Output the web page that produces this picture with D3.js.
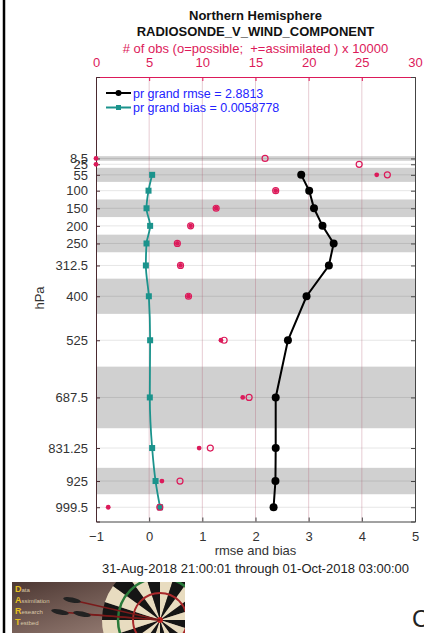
<!DOCTYPE html>
<html>
<head>
<meta charset="utf-8">
<script src="https://cdn.jsdelivr.net/npm/d3@7"></script>
<style>
  body { margin: 0; background: #fff; }
  svg { display: block; font-family: "Liberation Sans", Arial, sans-serif; }
</style>
</head>
<body>
<svg id="chart" width="424" height="633"></svg>
<script>
// pressure levels (hPa) and layer edges
const levels = [8.5, 25, 55, 100, 150, 200, 250, 312.5, 400, 525, 687.5, 831.25, 925, 999.5];
const edges = [2, 15, 35, 75, 125, 175, 225, 275, 350, 450, 600, 775, 887.5, 962.5, 1036.5];

// rmse and bias per level (null = no assimilated obs)
const rmse = [null, null, 2.86, 3.01, 3.10, 3.26, 3.47, 3.38, 2.96, 2.61, 2.38, 2.38, 2.375, 2.34];
const bias = [null, null, 0.056, -0.012, -0.05, 0.018, -0.05, -0.062, -0.006, 0.018, 0.012, 0.056, 0.12, 0.205];

// number of obs, x 10000
const nPossible = [15.9, 24.75, 27.4, 16.9, 11.3, 8.9, 7.65, 7.95, 8.7, 12.05, 14.4, 10.75, 7.9, 6.0];
const nAssim = [0, 0, 26.4, 16.9, 11.3, 8.9, 7.65, 7.95, 8.7, 11.75, 13.8, 9.7, 6.2, 1.15];

const grandRmse = "2.8813";
const grandBias = "0.0058778";
const xTicks = [-1, 0, 1, 2, 3, 4, 5];
const obsTicks = [0, 5, 10, 15, 20, 25, 30];

const crimson = "#dc1a5a", teal = "#1b938c", axisGray = "#444";

const svg = d3.select("#chart");
const L = 96, R = 415, T = 77, B = 521.5;

const x = d3.scaleLinear().domain([-1, 5]).range([L, R]);
const xo = d3.scaleLinear().domain([0, 30]).range([L, R]);
const y = d3.scaleLinear().domain([-223, 1040]).range([T, B]);

// page frame on the left
svg.append("line").attr("x1", 4).attr("x2", 4).attr("y1", 0).attr("y2", 633)
  .attr("stroke", "#000").attr("stroke-width", 2.5);

// shaded layers (every other one)
svg.append("g").selectAll("rect")
  .data(levels.map((d, i) => i).filter(i => i % 2 === 0))
  .join("rect")
  .attr("x", L).attr("width", R - L)
  .attr("y", i => y(edges[i]))
  .attr("height", i => y(edges[i + 1]) - y(edges[i]))
  .attr("fill", "#d0d0d0");

// horizontal level lines
svg.append("g").selectAll("line").data(levels).join("line")
  .attr("x1", L).attr("x2", R)
  .attr("y1", d => y(d)).attr("y2", d => y(d))
  .attr("stroke", "#000").attr("stroke-opacity", 0.1).attr("stroke-width", 1);

// vertical grid lines
svg.append("g").selectAll("line").data(xTicks.slice(1, -1)).join("line")
  .attr("x1", d => x(d)).attr("x2", d => x(d))
  .attr("y1", T).attr("y2", B)
  .attr("stroke", "#b0566e").attr("stroke-opacity", 0.3).attr("stroke-width", 1);

// axes
const gBottom = svg.append("g").attr("transform", `translate(0,${B})`)
  .call(d3.axisBottom(x).tickValues(xTicks).tickSize(-4).tickPadding(10).tickFormat(d3.format("d")));
const gTop = svg.append("g").attr("transform", `translate(0,${T})`)
  .call(d3.axisTop(xo).tickValues(obsTicks).tickSize(-4).tickPadding(10));
const gLeft = svg.append("g").attr("transform", `translate(${L},0)`)
  .call(d3.axisLeft(y).tickValues(levels).tickSize(-4).tickPadding(8).tickFormat(d => d));
const gRight = svg.append("g").attr("transform", `translate(${R},0)`)
  .call(d3.axisRight(y).tickValues(levels).tickSize(-4).tickFormat(""));

[gBottom, gTop, gLeft, gRight].forEach(g => {
  g.selectAll("text").attr("font-size", 13).attr("font-family", "Liberation Sans, Arial, sans-serif");
});
gBottom.select(".domain").attr("stroke", axisGray);
gBottom.selectAll(".tick line").attr("stroke", axisGray);
gBottom.selectAll("text").attr("fill", "#333");
gRight.select(".domain").attr("stroke", axisGray);
gRight.selectAll(".tick line").attr("stroke", axisGray);
gLeft.select(".domain").attr("stroke", "#4a2a30");
gLeft.selectAll(".tick line").attr("stroke", "#4a2a30");
gLeft.selectAll("text").attr("fill", "#333");
gTop.select(".domain").attr("stroke", crimson);
gTop.selectAll(".tick line").attr("stroke", crimson);
gTop.selectAll("text").attr("fill", crimson);

// obs counts
const obs = svg.append("g");
obs.selectAll("circle.poss").data(levels).join("circle")
  .attr("class", "poss")
  .attr("cx", (d, i) => xo(nPossible[i])).attr("cy", d => y(d))
  .attr("r", 3).attr("fill", "none").attr("stroke", crimson).attr("stroke-width", 1.2);
obs.selectAll("circle.assim").data(levels).join("circle")
  .attr("class", "assim")
  .attr("cx", (d, i) => xo(nAssim[i])).attr("cy", d => y(d))
  .attr("r", 2.4).attr("fill", crimson);

// bias
const biasPts = levels.map((p, i) => ({ p, v: bias[i] })).filter(d => d.v !== null);
svg.append("path").datum(biasPts)
  .attr("d", d3.line().x(d => x(d.v)).y(d => y(d.p)).curve(d3.curveMonotoneY))
  .attr("fill", "none").attr("stroke", teal).attr("stroke-width", 1.8);
svg.append("g").selectAll("rect").data(biasPts).join("rect")
  .attr("x", d => x(d.v) - 3).attr("y", d => y(d.p) - 3)
  .attr("width", 6).attr("height", 6).attr("fill", teal);

// rmse
const rmsePts = levels.map((p, i) => ({ p, v: rmse[i] })).filter(d => d.v !== null);
svg.append("path").datum(rmsePts)
  .attr("d", d3.line().x(d => x(d.v)).y(d => y(d.p)))
  .attr("fill", "none").attr("stroke", "#000").attr("stroke-width", 2);
svg.append("g").selectAll("circle").data(rmsePts).join("circle")
  .attr("cx", d => x(d.v)).attr("cy", d => y(d.p)).attr("r", 4).attr("fill", "#000");

// the possible obs at the bottom sits on the bias marker
obs.raise();
svg.selectAll(".assim").raise();

// legend
const leg = svg.append("g");
[{ c: "#000", t: "pr grand rmse = " + grandRmse, yy: 93, m: "c" },
 { c: teal, t: "pr grand bias = " + grandBias, yy: 107.5, m: "s" }].forEach(e => {
  leg.append("line").attr("x1", 106).attr("x2", 131).attr("y1", e.yy).attr("y2", e.yy)
    .attr("stroke", e.c).attr("stroke-width", 2);
  if (e.m === "c") leg.append("circle").attr("cx", 118.5).attr("cy", e.yy).attr("r", 3).attr("fill", e.c);
  else leg.append("rect").attr("x", 116).attr("y", e.yy - 2.5).attr("width", 5).attr("height", 5).attr("fill", e.c);
  leg.append("text").attr("x", 133).attr("y", e.yy + 4.5).attr("font-size", 12.5)
    .attr("fill", "#2323ff").text(e.t);
});

// titles
const cx = (L + R) / 2;
svg.append("text").attr("x", cx).attr("y", 20).attr("text-anchor", "middle")
  .attr("font-size", 13).attr("font-weight", "bold").attr("fill", "#111").text("Northern Hemisphere");
svg.append("text").attr("x", cx).attr("y", 35.5).attr("text-anchor", "middle")
  .attr("font-size", 13).attr("font-weight", "bold").attr("fill", "#111").text("RADIOSONDE_V_WIND_COMPONENT");
svg.append("text").attr("x", cx).attr("y", 53).attr("text-anchor", "middle")
  .attr("font-size", 13).attr("fill", crimson).attr("xml:space", "preserve")
  .text("# of obs (o=possible;  +=assimilated ) x 10000");
svg.append("text").attr("x", cx).attr("y", 555).attr("text-anchor", "middle")
  .attr("font-size", 13).attr("fill", "#333").text("rmse and bias");
svg.append("text").attr("x", cx).attr("y", 572.5).attr("text-anchor", "middle")
  .attr("font-size", 13).attr("fill", "#222").text("31-Aug-2018 21:00:01 through 01-Oct-2018 03:00:00");
svg.append("text").attr("transform", "translate(44,298) rotate(-90)").attr("text-anchor", "middle")
  .attr("font-size", 13).attr("fill", "#333").text("hPa");

// DART logo, sketched
const logo = svg.append("g");
const grad = svg.append("defs").append("linearGradient").attr("id", "lg")
  .attr("x1", 0).attr("y1", 0).attr("x2", 1).attr("y2", 1);
grad.append("stop").attr("offset", 0).attr("stop-color", "#4d3833");
grad.append("stop").attr("offset", 1).attr("stop-color", "#a48a80");
svg.select("defs").append("clipPath").attr("id", "lc")
  .append("rect").attr("x", 12).attr("y", 582).attr("width", 173).attr("height", 51);
logo.attr("clip-path", "url(#lc)");
logo.append("rect").attr("x", 12).attr("y", 582).attr("width", 173).attr("height", 51).attr("fill", "url(#lg)");
const bx = 160, by = 620;
const wedges = d3.range(20);
const arc = d3.arc();
logo.selectAll("path.w").data(wedges).join("path")
  .attr("transform", `translate(${bx},${by})`)
  .attr("d", i => arc({ innerRadius: 0, outerRadius: 58, startAngle: i * Math.PI / 10, endAngle: (i + 1) * Math.PI / 10 }))
  .attr("fill", i => i % 2 ? "#151515" : "#e8dcc0");
logo.append("circle").attr("cx", bx).attr("cy", by).attr("r", 42).attr("fill", "none")
  .attr("stroke", "#2a7a3a").attr("stroke-width", 2.5);
logo.append("circle").attr("cx", bx).attr("cy", by).attr("r", 27).attr("fill", "none")
  .attr("stroke", "#a8282a").attr("stroke-width", 2);
logo.append("circle").attr("cx", bx).attr("cy", by).attr("r", 3).attr("fill", "#c02020");
[[72, 600], [60, 612], [82, 614]].forEach(([dx, dy]) => {
  logo.append("line").attr("x1", dx).attr("y1", dy).attr("x2", bx).attr("y2", by)
    .attr("stroke", "#7a1a1a").attr("stroke-width", 1.5);
  logo.append("ellipse").attr("cx", dx).attr("cy", dy).attr("rx", 9).attr("ry", 2.5)
    .attr("fill", "#222").attr("transform", `rotate(12,${dx},${dy})`);
});
["Data", "Assimilation", "Research", "Testbed"].forEach((w, i) => {
  const t = logo.append("text").attr("x", 15).attr("y", 592 + i * 11).attr("font-size", 6).attr("fill", "#d8c8a8");
  t.append("tspan").attr("fill", "#e8c020").attr("font-size", 9).attr("font-weight", "bold").text(w[0]);
  t.append("tspan").text(w.slice(1));
});

svg.append("text").attr("x", 412).attr("y", 627).attr("font-size", 24).attr("fill", "#222").text("C");
</script>
</body>
</html>
